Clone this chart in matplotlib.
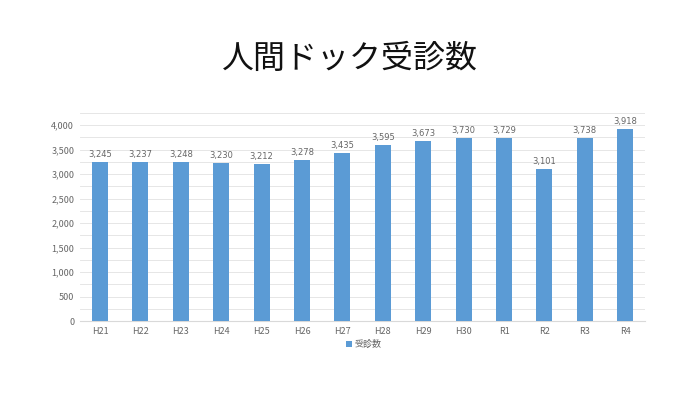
import matplotlib
matplotlib.use("Agg")
import matplotlib.pyplot as plt
from matplotlib.ticker import FuncFormatter, MultipleLocator

plt.rcParams['font.family'] = ['Noto Sans CJK JP', 'DejaVu Sans']

years = ["H21", "H22", "H23", "H24", "H25", "H26", "H27", "H28", "H29", "H30",
         "R1", "R2", "R3", "R4"]
counts = [3245, 3237, 3248, 3230, 3212, 3278, 3435, 3595, 3673, 3730,
          3729, 3101, 3738, 3918]

BAR = "#5B9BD5"
TXT = "#666666"

fig = plt.figure(figsize=(7, 3.93), dpi=100)
ax = fig.add_axes([0.114, 0.183, 0.808, 0.53])

x = range(len(years))
ax.bar(x, counts, width=0.4, color=BAR, label="受診数", zorder=3)
for xi, v in zip(x, counts):
    ax.text(xi, v + 60, f"{v:,}", ha="center", va="bottom", fontsize=6,
            color=TXT, family=["DejaVu Sans"])

ax.set_xlim(-0.5, len(years) - 0.5)
ax.set_ylim(0, 4250)
ax.yaxis.set_major_locator(MultipleLocator(500))
ax.yaxis.set_minor_locator(MultipleLocator(250))
ax.yaxis.set_major_formatter(FuncFormatter(lambda v, p: f"{int(v):,}"))
ax.grid(axis="y", which="both", color="#E6E6E6", linewidth=0.7, zorder=0)
ax.set_xticks(list(x))
ax.set_xticklabels(years)
ax.tick_params(axis="both", which="both", length=0, labelsize=6.5,
               colors=TXT, pad=4)
for s in ["top", "right", "left"]:
    ax.spines[s].set_visible(False)
ax.spines["bottom"].set_color("#D9D9D9")

fig.text(0.5, 0.85, "人間ドック受診数", ha="center", va="center",
         fontsize=23, color="#111111")

fig.legend(loc="center", bbox_to_anchor=(0.52, 0.124), frameon=False,
           fontsize=6.5, labelcolor=TXT, handlelength=0.6, handleheight=0.6,
           handletextpad=0.3)

fig.savefig("out.png", dpi=100)
